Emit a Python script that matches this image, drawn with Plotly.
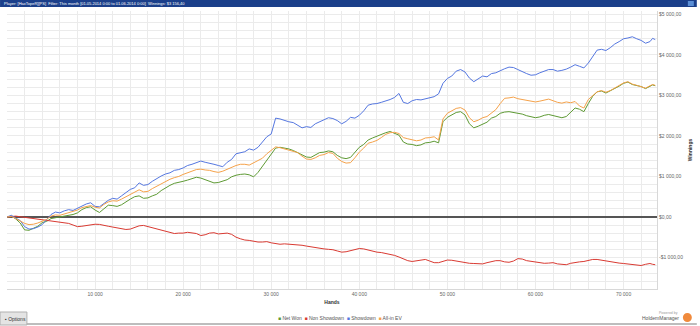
import plotly.graph_objects as go

hands = list(range(0, 73001, 500)) + [73300, 73600]

showdown = [0, 40, -30, -90, -240, -300, -290, -250, -190, -60,
            60, 120, 100, 150, 180, 160, 220, 280, 320, 350,
            260, 250, 330, 410, 460, 440, 520, 590, 680, 720,
            840, 780, 800, 880, 950, 1010, 1060, 1090, 1150, 1170,
            1210, 1270, 1300, 1340, 1380, 1350, 1330, 1300, 1270, 1240,
            1350, 1420, 1560, 1590, 1610, 1680, 1650, 1720, 1850, 1980,
            2050, 2440, 2420, 2380, 2350, 2330, 2270, 2200, 2230, 2210,
            2300, 2360, 2400, 2450, 2430, 2380, 2300, 2360, 2460, 2440,
            2510, 2620, 2760, 2790, 2800, 2830, 2860, 2900, 2950, 3050,
            2830, 2800, 2870, 2900, 2890, 2920, 2940, 2970, 3040, 3300,
            3420, 3480, 3600, 3640, 3580, 3430, 3340, 3400, 3480, 3460,
            3540, 3560, 3620, 3660, 3700, 3690, 3640, 3580, 3540, 3500,
            3510, 3560, 3600, 3640, 3640, 3600, 3620, 3650, 3700, 3760,
            3720, 3680, 3800, 3950, 4120, 4140, 4110, 4180, 4270, 4330,
            4400, 4420, 4450, 4400, 4360, 4290, 4330, 4410, 4380]

net_won = [0, 20, -50, -150, -320, -330, -280, -230, -140, -110,
           -40, -20, 0, 20, 40, 60, 100, 180, 230, 250,
           170, 110, 200, 290, 280, 260, 300, 380, 440, 500,
           520, 460, 470, 520, 560, 650, 720, 780, 830, 850,
           880, 910, 940, 980, 960, 920, 890, 840, 850, 880,
           920, 990, 1030, 1050, 1060, 1040, 990, 1100, 1250, 1420,
           1560, 1700, 1720, 1700, 1680, 1640, 1590, 1530, 1480, 1470,
           1520, 1590, 1600, 1630, 1610, 1520, 1460, 1440, 1470, 1600,
           1720, 1790, 1900, 1950, 2000, 2030, 2080, 2110, 2060, 2020,
           1850, 1800, 1790, 1760, 1780, 1830, 1840, 1870, 1830, 2350,
           2460, 2510, 2580, 2600, 2520, 2300, 2200, 2240, 2300, 2340,
           2440, 2480, 2560, 2590, 2600, 2580, 2560, 2540, 2500, 2470,
           2450, 2470, 2510, 2530, 2500, 2470, 2450, 2480, 2580, 2690,
           2660, 2600, 2800, 2980, 3090, 3110, 3060, 3110, 3170, 3230,
           3300, 3330, 3270, 3240, 3220, 3170, 3230, 3260, 3240]

allin_ev = [0, 10, -40, -100, -160, -190, -180, -150, -110, -60,
            20, 50, 40, 70, 100, 130, 170, 230, 260, 280,
            240, 220, 310, 370, 400, 390, 440, 500, 560, 620,
            670, 620, 630, 700, 760, 820, 880, 930, 970, 1000,
            1050, 1100, 1130, 1170, 1180, 1160, 1150, 1120, 1100, 1130,
            1180, 1230, 1270, 1300, 1300, 1280, 1330, 1380, 1450, 1560,
            1640, 1730, 1710, 1680, 1650, 1620, 1590, 1500, 1430, 1420,
            1460, 1520, 1540, 1590, 1570, 1450, 1370, 1330, 1340, 1460,
            1600, 1700, 1820, 1850, 1890, 1960, 2040, 2080, 2090, 2060,
            1960, 1930, 1910, 1880, 1900, 1950, 1960, 1980, 1900, 2420,
            2560, 2610, 2680, 2700, 2640, 2450, 2350, 2390, 2450, 2480,
            2560, 2650, 2800, 2930, 2940, 2960, 2920, 2900, 2880, 2850,
            2840, 2860, 2880, 2910, 2870, 2830, 2810, 2840, 2820, 2850,
            2740, 2690, 2900, 3000, 3090, 3120, 3080, 3120, 3180, 3240,
            3310, 3340, 3280, 3250, 3220, 3180, 3240, 3270, 3250]

non_showdown = [0, 10, 20, 5, -10, -30, -40, -45, -60, -80,
                -100, -120, -130, -140, -160, -200, -240, -230, -210, -190,
                -180, -185, -200, -230, -250, -270, -290, -310, -300, -250,
                -220, -210, -240, -270, -300, -330, -360, -390, -410, -400,
                -400, -380, -390, -410, -460, -440, -400, -390, -420, -410,
                -400, -430, -500, -540, -570, -580, -600, -620, -620, -610,
                -640, -660, -675, -665, -670, -680, -690, -700, -720, -740,
                -760, -780, -790, -800, -810, -840, -870, -860, -830, -800,
                -780, -790, -820, -850, -870, -880, -900, -920, -950, -990,
                -1040, -1080, -1100, -1080, -1060, -1050, -1090, -1130, -1130, -1100,
                -1065, -1070, -1090, -1110, -1130, -1145, -1150, -1160, -1160, -1130,
                -1110, -1080, -1080, -1110, -1120, -1090, -1030, -1040, -1080, -1100,
                -1120, -1140, -1145, -1140, -1130, -1160, -1175, -1180, -1145, -1120,
                -1110, -1100, -1080, -1050, -1050, -1070, -1095, -1110, -1130, -1140,
                -1150, -1160, -1180, -1190, -1200, -1170, -1150, -1170, -1180]

y_tick_vals = list(range(-1600, 5001, 200))
y_label_map = {-1000: "-$1 000,00", 0: "$0,00", 1000: "$1 000,00", 2000: "$2 000,00",
               3000: "$3 000,00", 4000: "$4 000,00", 5000: "$5 000,00"}
x_tick_vals = list(range(0, 74001, 2000))
x_label_map = {10000: "10 000", 20000: "20 000", 30000: "30 000", 40000: "40 000",
               50000: "50 000", 60000: "60 000", 70000: "70 000"}

series = [
    ("Net Won", net_won, "#5e9a34"),
    ("Non Showdown", non_showdown, "#d93a32"),
    ("Showdown", showdown, "#5577e0"),
    ("All-in EV", allin_ev, "#f5a24a"),
]

fig = go.Figure()
for name, vals, col in series:
    fig.add_trace(go.Scatter(x=hands, y=vals, mode="lines", name=name,
                             line=dict(color=col, width=1), showlegend=False))

W, H = 700, 326
ml, mr, mt, mb = 7, 40, 11, 37
ph = H - mt - mb
pw = W - ml - mr

def py(p):
    return (H - mb - p) / ph

def px(p):
    return (p - ml) / pw

fig.update_layout(
    width=W, height=H,
    margin=dict(l=ml, r=mr, t=mt, b=mb),
    paper_bgcolor="white", plot_bgcolor="white",
    font=dict(family="Liberation Sans, Arial", size=5, color="#444"),
    xaxis=dict(range=[0, 73800], tickvals=x_tick_vals,
               ticktext=[x_label_map.get(v, "") for v in x_tick_vals],
               showgrid=True, gridcolor="#ebebeb", gridwidth=1,
               zeroline=False, showline=True, linecolor="#d8d8d8", ticks="",
               tickfont=dict(size=5, color="#666"),
               title=dict(text="<b>Hands</b>", font=dict(size=5, color="#333"), standoff=4)),
    yaxis=dict(range=[-1780, 5086], side="right", tickvals=y_tick_vals,
               ticktext=[y_label_map.get(v, "") for v in y_tick_vals],
               showgrid=True, gridcolor="#ebebeb", gridwidth=1,
               zeroline=True, zerolinecolor="#555555", zerolinewidth=2,
               showline=True, linecolor="#d8d8d8", ticks="",
               tickfont=dict(size=5, color="#666"),
               title=dict(text="<b>Winnings</b>", font=dict(size=5, color="#333"), standoff=6)),
    showlegend=False,
)

shapes = [
    dict(type="rect", xref="paper", yref="paper", x0=px(0), x1=px(W),
         y0=py(7), y1=py(0), fillcolor="#1b3f8a", line=dict(width=0), layer="above"),
    dict(type="rect", xref="paper", yref="paper", x0=px(691), x1=px(697),
         y0=py(6), y1=py(1), fillcolor="#5b8fd6", line=dict(width=0), layer="above"),
    dict(type="line", xref="paper", yref="paper", x0=px(0), x1=px(W),
         y0=py(324), y1=py(324), line=dict(color="#bdbdbd", width=2)),
    dict(type="rect", xref="paper", yref="paper", x0=px(0), x1=px(27),
         y0=py(325), y1=py(312), fillcolor="#e4e4e4", line=dict(color="#b0b0b0", width=1)),
    dict(type="circle", xref="paper", yref="paper", x0=px(686), x1=px(695),
         y0=py(322), y1=py(313), fillcolor="#f08a3c", line=dict(width=0)),
]
fig.update_layout(shapes=shapes)

legend_html = "  ".join(
    f'<span style="color:{col}">■</span> {name}' for name, _, col in series)

annotations = [
    dict(text="Player: [HaxTopeR][PS]  Filter: This month [01.05.2014 0:00 to 01.06.2014 0:00]  Winnings: $3 156,40",
         xref="paper", yref="paper", x=px(2), y=py(3.5), xanchor="left", yanchor="middle",
         showarrow=False, font=dict(size=4, color="white")),
    dict(text=legend_html, xref="paper", yref="paper", x=px(342), y=py(318),
         xanchor="center", yanchor="middle", showarrow=False, font=dict(size=5, color="#555")),
    dict(text="▪ Options", xref="paper", yref="paper", x=px(3), y=py(318.5),
         xanchor="left", yanchor="middle", showarrow=False, font=dict(size=5, color="#333")),
    dict(text="Powered by", xref="paper", yref="paper", x=px(683), y=py(313),
         xanchor="right", yanchor="middle", showarrow=False, font=dict(size=3.5, color="#999")),
    dict(text="HoldemManager", xref="paper", yref="paper", x=px(684), y=py(318),
         xanchor="right", yanchor="middle", showarrow=False, font=dict(size=5, color="#555")),
]
fig.update_layout(annotations=annotations)

fig.write_html("out.html")
